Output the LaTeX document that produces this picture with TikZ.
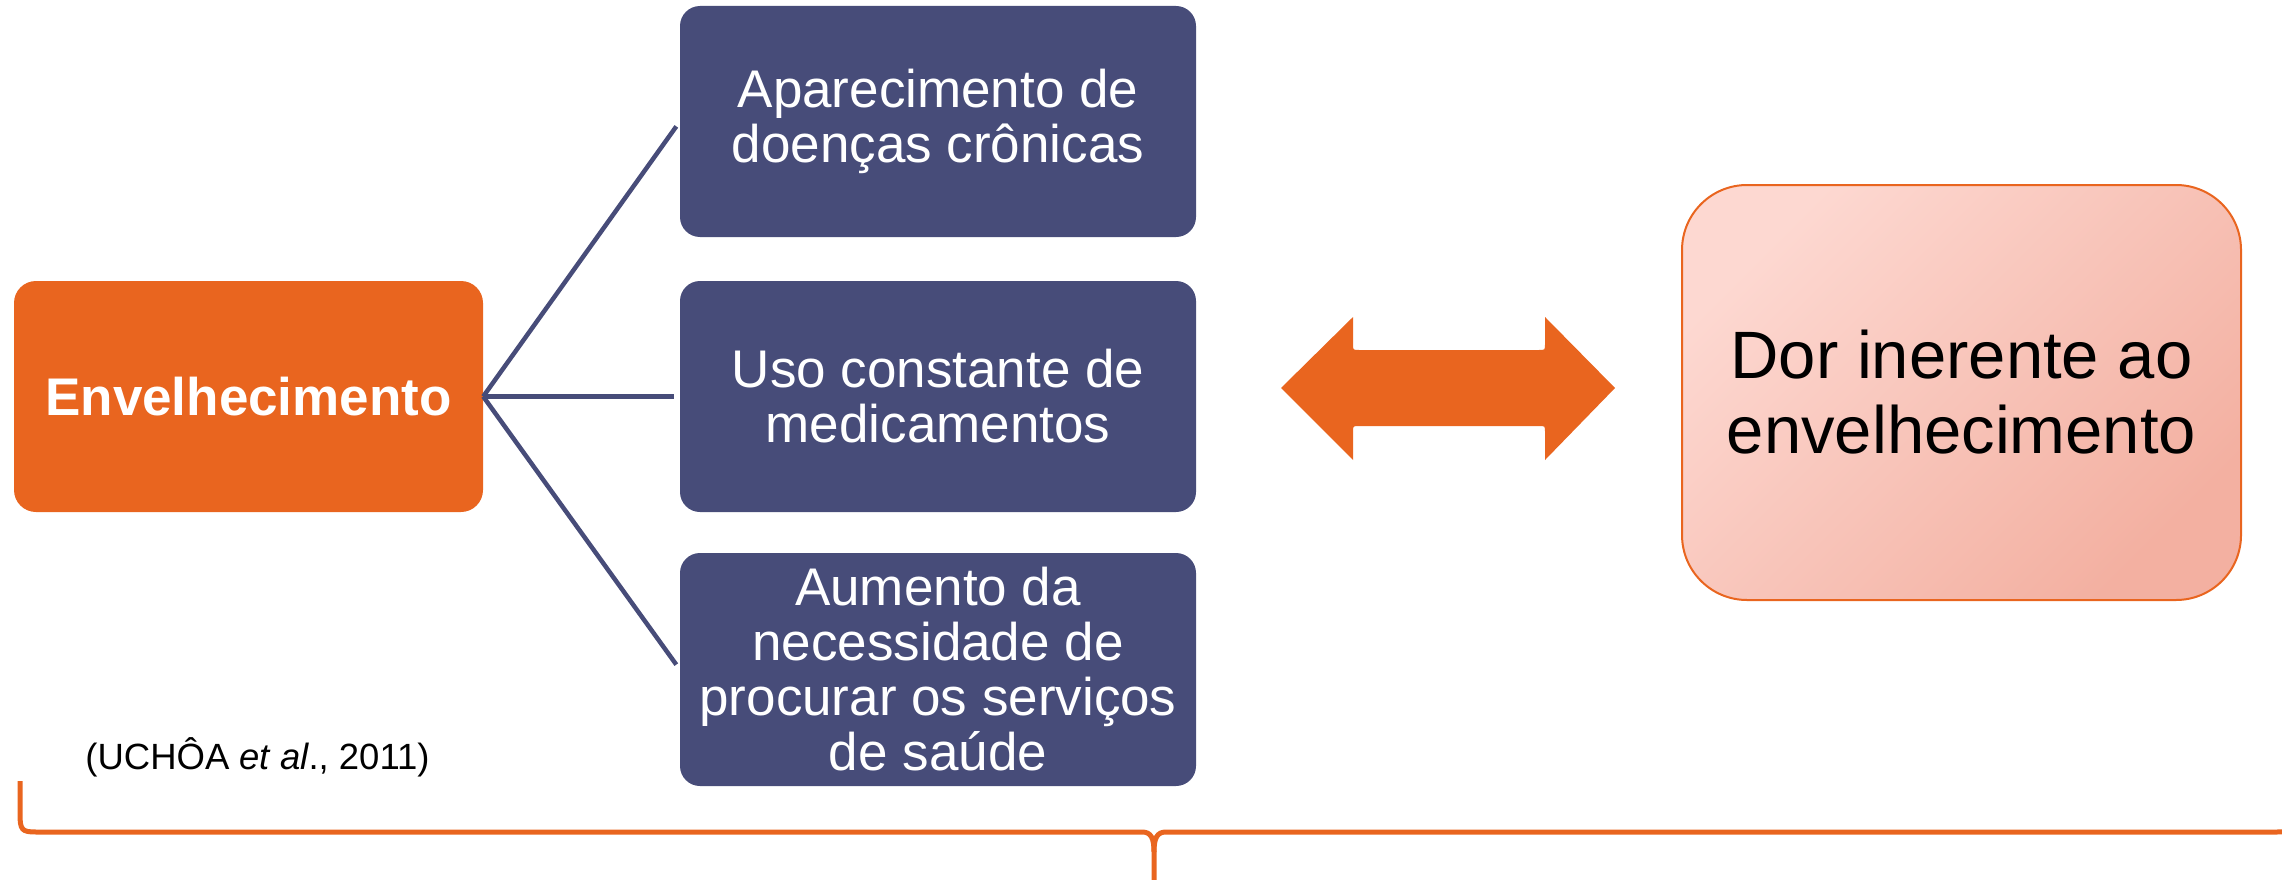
\documentclass[tikz,border=0pt]{standalone}
\usepackage{fontspec}
\setmainfont{Liberation Sans}
\definecolor{orng}{HTML}{E9651F}
\definecolor{navy}{HTML}{474C79}
\definecolor{pinkA}{HTML}{FDD8D1}
\definecolor{pinkB}{HTML}{F3B0A1}
\begin{document}
\begin{tikzpicture}[x=1pt,y=-1pt,
  bluebox/.style={fill=navy, rounded corners=20pt, minimum width=516pt, minimum height=231pt, inner sep=0pt, text=white, align=center, font=\fontsize{53}{55}\selectfont},
  conn/.style={draw=navy, line width=4.5pt, shorten >=6pt},
  bracestyle/.style={draw=orng, line width=5pt}]
\useasboundingbox (0,0) rectangle (2282,880);
\clip (0,0) rectangle (2282,880);

\node[fill=orng, rounded corners=22pt, minimum width=469pt, minimum height=231pt, inner sep=0pt, text=white, font=\bfseries\fontsize{53}{55}\selectfont] (env) at (248.5,396.5) {Envelhecimento};

\node[bluebox] (b1) at (938,121.5) {Aparecimento de\\doenças crônicas};
\node[bluebox] (b2) at (938,396.5) {Uso constante de\\medicamentos};
\node[bluebox, minimum height=233pt] (b3) at (938,669.5) {Aumento da\\necessidade de\\procurar os serviços\\de saúde};

\draw[conn] (env.east) -- (b1.west);
\draw[conn] (env.east) -- (b2.west);
\draw[conn] (env.east) -- (b3.west);

\node[draw=orng, line width=2pt, rounded corners=65pt, top color=pinkA, bottom color=pinkB, shading angle=45, minimum width=559pt, minimum height=415pt, inner sep=0pt, align=center, font=\fontsize{67}{75}\selectfont] (dor) at (1961.5,392.5) {Dor inerente ao\\envelhecimento};

\fill[orng] (1281,388) -- (1353,317) -- (1353,344) .. controls (1353,350) .. (1359,350)
  -- (1539,350) .. controls (1545,350) .. (1545,344) -- (1545,317) -- (1615,388)
  -- (1545,460) -- (1545,432) .. controls (1545,426) .. (1539,426)
  -- (1359,426) .. controls (1353,426) .. (1353,432) -- (1353,460) -- cycle;

\node[font=\fontsize{36.5}{40}\selectfont, inner sep=0pt] (cite) at (257.5,757) {(UCHÔA \textit{et al}., 2011)};

\draw[bracestyle] (20,781) -- (20,814) .. controls (20,830) and (22,832) .. (36,832)
  -- (1142,832) .. controls (1151,832) and (1154,838) .. (1154,852) -- (1154,890);
\draw[bracestyle] (1154,852) .. controls (1154,838) and (1157,832) .. (1166,832)
  -- (2277,832) .. controls (2291,832) and (2294,830) .. (2294,814) -- (2294,790);
\end{tikzpicture}
\end{document}
